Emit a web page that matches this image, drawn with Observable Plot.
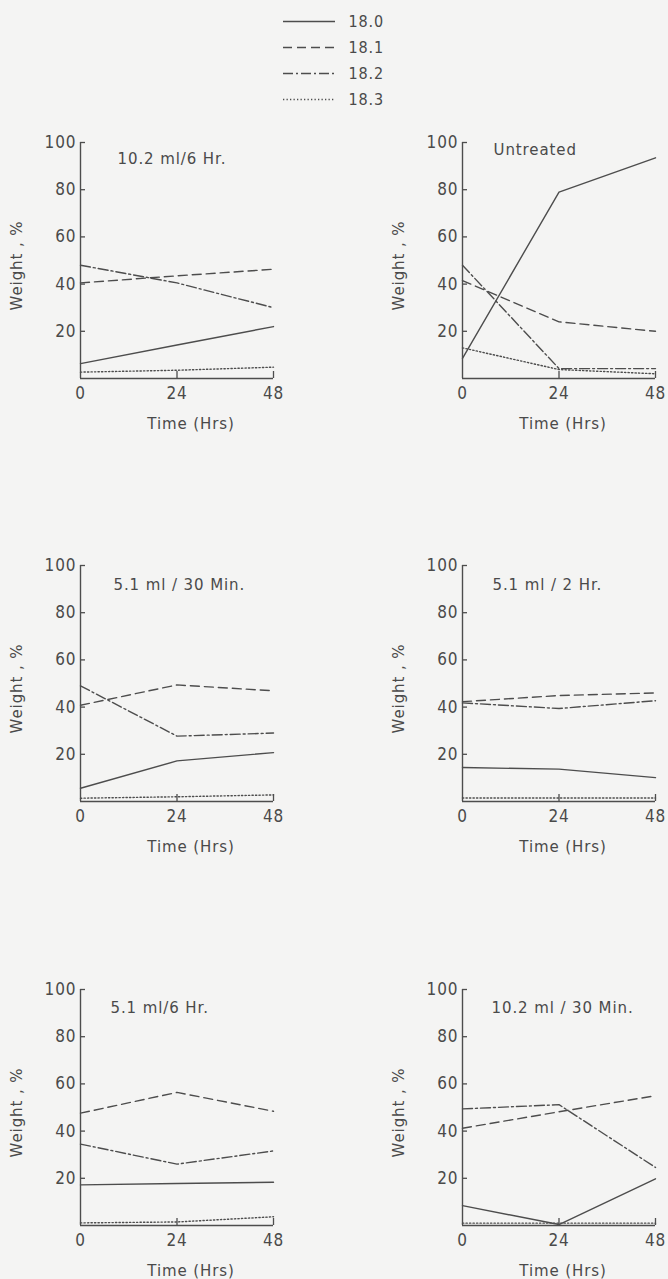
<!DOCTYPE html>
<html>
<head>
<meta charset="utf-8">
<script src="https://cdn.jsdelivr.net/npm/d3@7"></script>
<script src="https://cdn.jsdelivr.net/npm/@observablehq/plot@0.6"></script>
<style>
  html, body { margin: 0; padding: 0; background: #f4f4f3; overflow: hidden; }
  body { width: 668px; height: 1279px; position: relative; font-family: 'DejaVu Sans', sans-serif; color: #4a4a4a; }
  .panel { position: absolute; }
  .panel svg { background: transparent !important; overflow: visible; max-width: none !important; }
  .panel svg text { letter-spacing: 0.9px; }
</style>
</head>
<body>
<script>
// ---- data ----
const hours = [0, 24, 48];
const seriesNames = ["18.0", "18.1", "18.2", "18.3"];
const panelTitles = ["10.2 ml/6 Hr.", "Untreated", "5.1 ml / 30 Min.", "5.1 ml / 2 Hr.", "5.1 ml/6 Hr.", "10.2 ml / 30 Min."];
const yTicks = [20, 40, 60, 80, 100];
const xTicks = [0, 24, 48];
const yLabel = "Weight , %";
const xLabel = "Time (Hrs)";
// values per panel (in panelTitles order), each [0 h, 24 h, 48 h]
const s180 = [[6.3, 14.2, 22], [8.5, 79, 93.5], [5.6, 17.2, 20.7], [14.4, 13.7, 10.1], [17.2, 17.8, 18.3], [8.4, 0.4, 19.8]];
const s181 = [[40.5, 43.5, 46.3], [41.5, 24, 20], [40.8, 49.4, 46.9], [42.3, 44.9, 46], [47.6, 56.4, 48.4], [41.2, 48.2, 55]];
const s182 = [[48, 40.5, 30], [48, 4.2, 4.2], [49, 27.7, 29], [41.8, 39.4, 42.7], [34.5, 26, 31.6], [49.4, 51.2, 24.6]];
const s183 = [[2.7, 3.5, 4.8], [13, 3.8, 2], [1.4, 2, 2.8], [1.5, 1.5, 1.5], [1.1, 1.5, 3.7], [1, 1, 1]];

// ---- styles ----
const ink = "#4d4d4d";
const txt = "#4a4a4a";
const condensed = "'DejaVu Sans Condensed', 'DejaVu Sans', sans-serif";
const regular = "'DejaVu Sans', sans-serif";
const dashes = {"18.0": null, "18.1": "9,5", "18.2": "10,3,2,3", "18.3": "1.3,2.2"};
const allSeries = [s180, s181, s182, s183];

// ---- legend ----
{
  const legend = Plot.plot({
    width: 130, height: 110,
    marginLeft: 13, marginRight: 65, marginTop: 21, marginBottom: 11,
    x: {domain: [0, 1], axis: null},
    y: {type: "point", domain: seriesNames, padding: 0, axis: null},
    style: {background: "transparent", fontFamily: condensed, color: txt},
    marks: [
      ...seriesNames.map(s => Plot.ruleY([s], {y: d => d, x1: 0, x2: 1, stroke: ink, strokeWidth: 1.4, strokeDasharray: dashes[s]})),
      Plot.text(seriesNames, {x: 1, y: d => d, text: d => d, dx: 13, textAnchor: "start", fontSize: 16, fontFamily: condensed, fill: txt})
    ]
  });
  const div = document.createElement("div");
  div.className = "panel";
  div.style.left = "270px"; div.style.top = "0px";
  div.appendChild(legend);
  document.body.appendChild(div);
}

// ---- panels ----
const lefts = [0, 382];
const tops = [122, 545, 969];
const titleDx = [37, 31, 33, 30, 30, 29];
const titleDy = [17, 8, 20, 20, 19, 19];
const plotW = 193, plotH = 236;

panelTitles.forEach((title, i) => {
  const rows = [];
  seriesNames.forEach((s, k) => hours.forEach((h, j) => rows.push({series: s, hour: h, value: allSeries[k][i][j]})));
  const col = i % 2, row = Math.floor(i / 2);
  const chart = Plot.plot({
    width: 80 + plotW + 12, height: 20 + plotH + 56,
    marginLeft: 80, marginRight: 12, marginTop: 20, marginBottom: 56,
    x: {domain: [0, 48]},
    y: {domain: [0, 100]},
    style: {background: "transparent", fontFamily: regular, color: txt, overflow: "visible", maxWidth: "none"},
    marks: [
      Plot.ruleX([0], {y1: 0, y2: 100, stroke: ink, strokeWidth: 1.4}),
      Plot.ruleY([0], {x1: 0, x2: 48, stroke: ink, strokeWidth: 1.4}),
      Plot.tickY(yTicks, {y: d => d, insetRight: plotW - 5, stroke: ink, strokeWidth: 1.3}),
      Plot.tickX([24, 48], {x: d => d, insetTop: plotH - 7, stroke: ink, strokeWidth: 1.3}),
      Plot.axisY({ticks: yTicks, tickSize: 0, tickPadding: 4, fontSize: 17, fontFamily: condensed, label: null, fill: txt}),
      Plot.axisX({ticks: xTicks, tickSize: 0, tickPadding: 8, fontSize: 17, fontFamily: condensed, label: null, fill: txt}),
      Plot.text([yLabel], {frameAnchor: "left", rotate: -90, dx: -63, dy: 5, textAnchor: "middle", fontSize: 15, fontFamily: regular, fill: txt}),
      Plot.text([xLabel], {frameAnchor: "bottom", dy: 50, dx: col === 0 ? 14 : 4, textAnchor: "middle", fontSize: 15, fontFamily: regular, fill: txt}),
      Plot.text([title], {frameAnchor: "top-left", dx: titleDx[i], dy: titleDy[i], textAnchor: "start", lineAnchor: "middle", fontSize: 15, fontFamily: regular, fill: txt}),
      ...seriesNames.map(s => Plot.line(rows.filter(r => r.series === s), {
        x: "hour", y: "value", stroke: ink, strokeWidth: 1.4, strokeDasharray: dashes[s]
      }))
    ]
  });
  const div = document.createElement("div");
  div.className = "panel";
  div.style.left = lefts[col] + "px";
  div.style.top = tops[row] + "px";
  div.appendChild(chart);
  document.body.appendChild(div);
});
</script>
</body>
</html>
